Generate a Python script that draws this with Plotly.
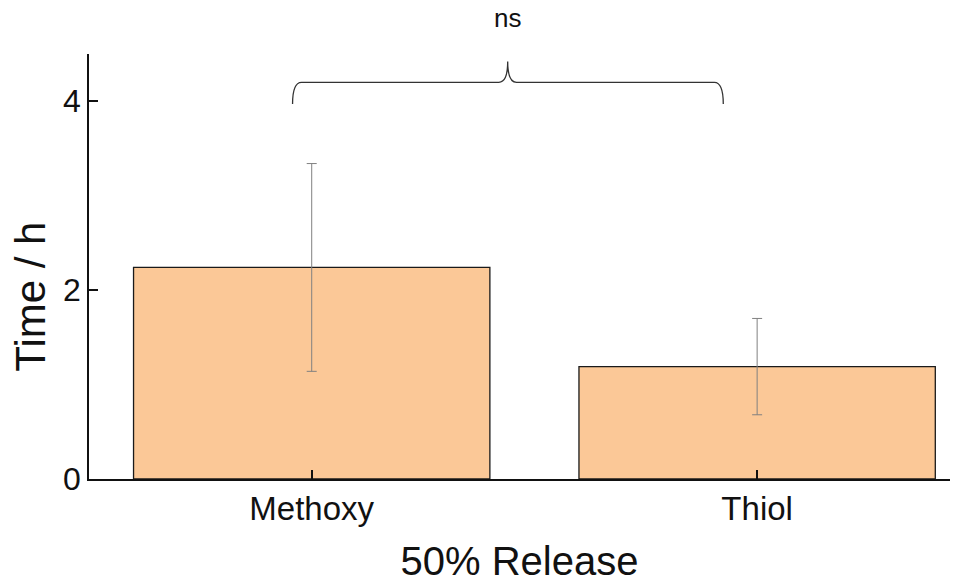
import plotly.graph_objects as go

categories = ["Methoxy", "Thiol"]
means = [2.24, 1.19]
errors = [1.10, 0.51]
y_ticks = [0, 2, 4]
x_title = "50% Release"
y_title = "Time / h"
sig_label = "ns"

x_pos = list(range(len(categories)))

fig = go.Figure()
fig.add_trace(go.Bar(
    x=x_pos, y=means, width=0.8,
    marker=dict(color="#FBC897", line=dict(color="#1a1a1a", width=1.3)),
    error_y=dict(type="data", array=errors, visible=True, color="#808080",
                 thickness=1, width=5),
    showlegend=False,
))

# bracket between the groups (data coords)
xl, xr, xm = -0.043, 0.924, 0.44
yb, yh, yt = 3.97, 4.2, 4.42
path = (f"M {xl},{yb} Q {xl},{yh} {xl+0.02},{yh} L {xm-0.02},{yh} "
        f"Q {xm},{yh} {xm},{yt} Q {xm},{yh} {xm+0.02},{yh} "
        f"L {xr-0.02},{yh} Q {xr},{yh} {xr},{yb}")
fig.add_shape(type="path", path=path, xref="x", yref="y",
              line=dict(color="#333333", width=1.3))

fig.add_annotation(x=xm, y=1.125, xref="x", yref="paper", text=sig_label,
                   showarrow=False, font=dict(size=26, color="#111111",
                                              family="Liberation Sans, Arial"))
fig.add_annotation(x=-0.068, y=0.43, xref="paper", yref="paper", text=y_title,
                   textangle=-90, showarrow=False, xanchor="center", yanchor="middle",
                   font=dict(size=42, color="#111111", family="Liberation Sans, Arial"))

fig.update_layout(
    width=971, height=583,
    margin=dict(l=89, r=21, t=54, b=104),
    plot_bgcolor="white", paper_bgcolor="white",
    font=dict(family="Liberation Sans, Arial", color="#111111"),
    xaxis=dict(range=[-0.5, 1.433], tickvals=x_pos, ticktext=categories,
               ticks="inside", ticklen=9, tickwidth=1.5, tickcolor="#111111",
               showline=True, linecolor="#111111", linewidth=1.5,
               showgrid=False, zeroline=False, tickfont=dict(size=33),
               automargin=False,
               title=dict(text=x_title, font=dict(size=40), standoff=22)),
    yaxis=dict(range=[0, 4.5], tickvals=y_ticks,
               ticks="inside", ticklen=9, tickwidth=1.5, tickcolor="#111111",
               showline=True, linecolor="#111111", linewidth=1.5,
               showgrid=False, zeroline=False, tickfont=dict(size=32),
               automargin=False),
    bargap=0.2,
)

fig.write_html("out.html")
